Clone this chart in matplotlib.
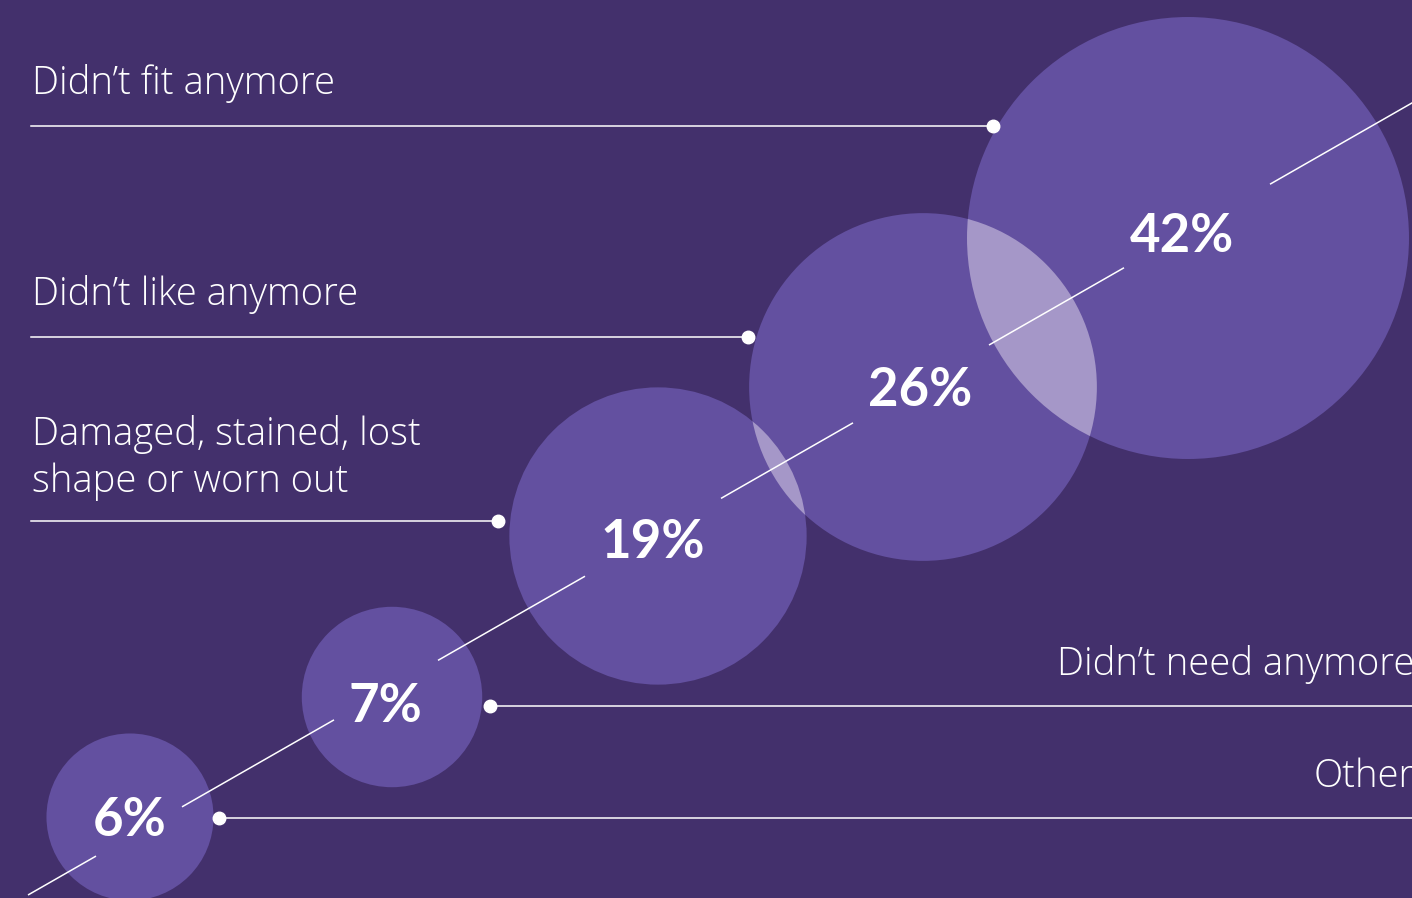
import numpy as np
import matplotlib
matplotlib.use("Agg")
import matplotlib.pyplot as plt
from matplotlib.patches import Circle

# data
categories = ["Didn’t fit anymore", "Didn’t like anymore",
              "Damaged, stained, lost\nshape or worn out",
              "Didn’t need anymore", "Other"]
values = [42, 26, 19, 7, 6]

BG = "#43306c"
CIRC = "#6350a0"
OVER = "#a597c8"

# layout (pixel space, y downwards)
W, H = 1412, 898
cx = [1188, 923, 658, 392, 130]
cy = [238, 387, 536, 697, 817]
scale = 34.1  # radius = scale * sqrt(value)

fig = plt.figure(figsize=(W / 100, H / 100), dpi=100, facecolor=BG)
ax = fig.add_axes([0, 0, 1, 1])
ax.set_xlim(0, W)
ax.set_ylim(H, 0)
ax.set_aspect("equal")
ax.axis("off")
ax.set_facecolor(BG)

circles = []
for x, y, v in zip(cx, cy, values):
    r = scale * np.sqrt(v)
    c = Circle((x, y), r, color=CIRC, lw=0, zorder=1)
    ax.add_patch(c)
    circles.append((x, y, r))

# lighter overlaps between neighbouring circles
for i in range(len(circles) - 1):
    x1, y1, r1 = circles[i]
    x2, y2, r2 = circles[i + 1]
    clip = Circle((x1, y1), r1, transform=ax.transData)
    ov = Circle((x2, y2), r2, color=OVER, lw=0, zorder=2)
    ax.add_patch(ov)
    ov.set_clip_path(clip)

# diagonal line with gaps around percentages
def ly(x):
    return 895 - 0.5723 * (x - 28)

gaps = [(1197, 73), (921, 68), (653, 68), (386, 52), (139, 43)]
edges = [28]
for gx, hw in sorted(gaps):
    edges += [gx - hw, gx + hw]
edges.append(1420)
for a, b in zip(edges[0::2], edges[1::2]):
    ax.plot([a, b], [ly(a), ly(b)], color="white", lw=1.1, zorder=3,
            solid_capstyle="butt")

# percentage labels
lbl_pos = [(1182, 236), (920, 390), (653, 542), (385, 706), (130, 821)]
for (x, y), v in zip(lbl_pos, values):
    ax.text(x, y, f"{v}%", color="white", fontsize=38, fontweight="bold",
            family="Lato", ha="center", va="center", zorder=4)

# category labels with leader lines
label_font = dict(color="white", fontsize=27.5, family="Open Sans",
                  fontweight="light", zorder=4)
ax.text(32, 94, categories[0], ha="left", va="baseline", **label_font)
ax.text(32, 305, categories[1], ha="left", va="baseline", **label_font)
ax.text(32, 492, categories[2], ha="left", va="baseline",
        linespacing=1.3, **label_font)
ax.text(1414, 675, categories[3], ha="right", va="baseline", **label_font)
ax.text(1414, 787, categories[4], ha="right", va="baseline", **label_font)

leaders = [(31, 993, 126, 993), (31, 748, 337, 748), (31, 498, 521, 498),
           (490, 1420, 706, 490), (219, 1420, 818, 219)]
for x0, x1, y, dot in leaders:
    ax.plot([x0, x1], [y, y], color="white", lw=1.1, zorder=3)
    ax.plot([dot], [y], "o", color="white", ms=9, zorder=4)

fig.savefig("out.png", dpi=100, facecolor=BG)
